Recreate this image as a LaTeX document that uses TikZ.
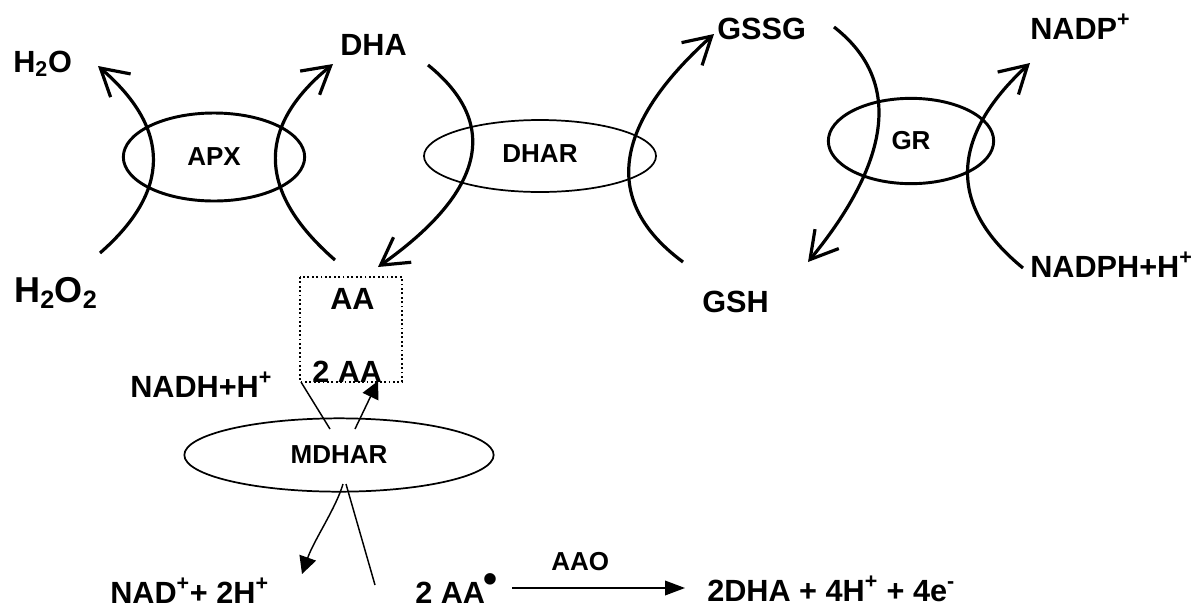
\documentclass[tikz,border=0pt]{standalone}
\usepackage{fontspec}
\setmainfont{Liberation Sans}
\usetikzlibrary{arrows.meta,shapes.geometric}
\tikzset{
  lbl/.style={font=\fontsize{23}{23}\selectfont\bfseries, inner sep=0pt, anchor=base west},
  enz/.style={draw, ellipse, inner sep=0pt, font=\fontsize{19.5}{19.5}\selectfont\bfseries},
  arc/.style={line width=2.4pt, -{Straight Barb[length=20pt,width=23pt]}},
  thin/.style={line width=1.1pt},
  tri/.style={thin, -{Triangle[length=13pt,width=13pt]}}
}
\newcommand{\radbullet}{\raisebox{8pt}{\fontsize{30}{30}\selectfont\kern-1pt\textbullet}}
\begin{document}
\begin{tikzpicture}[x=0.75pt,y=-0.75pt]
\useasboundingbox[fill=white] (0,0) rectangle (1204,608);

% labels
\node[lbl] (h2o) at (13,72) {H\textsubscript{2}O};
\node[lbl] (dha) at (340,55) {DHA};
\node[lbl] (gssg) at (717,39) {GSSG};
\node[lbl] (nadp) at (1030,39) {NADP\textsuperscript{+}};
\node[lbl, font=\fontsize{27}{27}\selectfont\bfseries] (h2o2) at (14,302) {H\textsubscript{2}O\textsubscript{2}};
\node[lbl] (aa) at (330,309) {AA};
\node[lbl] (aa2) at (312,382) {2 AA};
\node[lbl] (gsh) at (702,312) {GSH};
\node[lbl] (nadph) at (1030,277) {NADPH+H\textsuperscript{+}};
\node[lbl] (nadh) at (130,397) {NADH+H\textsuperscript{+}};
\node[lbl] (nad) at (110,603) {NAD\textsuperscript{+}+ 2H\textsuperscript{+}};
\node[lbl] (aar) at (415,603) {2 AA\radbullet};
\node[lbl] (prod) at (707,601) {2DHA + 4H\textsuperscript{+} + 4e\textsuperscript{-}};
\node[lbl, font=\fontsize{19.5}{19.5}\selectfont\bfseries] (aao) at (551,570) {AAO};

% enzymes
\node[enz, line width=2.2pt, minimum width=136, minimum height=66] (apx) at (214,157) {\raisebox{-2pt}{APX}};
\node[enz, line width=1.3pt, minimum width=174, minimum height=54] (dhar) at (540,156) {\raisebox{4pt}{DHAR}\hspace{10pt}};
\node[enz, line width=2.2pt, minimum width=124, minimum height=64] (gr) at (911,141) {\raisebox{-4pt}{GR}};
\node[enz, line width=1.3pt, minimum width=232, minimum height=55] (mdhar) at (339,455) {\raisebox{-4pt}{MDHAR}};

% dotted box around AA / 2 AA
\draw[dotted, line width=1.3pt] (300,277) rectangle (402,382);

% arc end points
\coordinate (a1s) at (100,253); \coordinate (a1e) at (98,66);
\coordinate (a2s) at (335,260); \coordinate (a2e) at (333,64);
\coordinate (a3s) at (428,65);  \coordinate (a3e) at (378,267);
\coordinate (a4s) at (683,262); \coordinate (a4e) at (714,34);
\coordinate (a5s) at (834,27);  \coordinate (a5e) at (808,262);
\coordinate (a6s) at (1023,268); \coordinate (a6e) at (1030,63);

\draw[arc] (a1s) .. controls (171,191) and (171,129) .. (a1e);
\draw[arc] (a2s) .. controls (257,192) and (256,127) .. (a2e);
\draw[arc] (a3s) .. controls (501,124) and (484,192) .. (a3e);
\draw[arc] (a4s) .. controls (602,202) and (612,126) .. (a4e);
\draw[arc] (a5s) .. controls (901,79) and (893,158) .. (a5e);
\draw[arc] (a6s) .. controls (947,206) and (950,137) .. (a6e);

% MDHAR connectors
\coordinate (boxbl) at (301,382);
\coordinate (m1) at (330,429);
\coordinate (m2) at (355,429);
\coordinate (up) at (378,381);
\coordinate (m3) at (343,484);
\coordinate (dn) at (302,574);
\coordinate (m4) at (346,484);
\coordinate (aarend) at (375,585);
\draw[thin] (boxbl) -- (m1);
\draw[tri] (m2) -- (up);
\draw[tri] (m3) .. controls (336,508) and (314,540) .. (dn);
\draw[thin] (m4) .. controls (352,505) and (365,550) .. (aarend);

% AAO reaction arrow
\coordinate (aaos) at (512,588);
\coordinate (aaoe) at (685,588);
\draw[thin, -{Triangle[length=15pt,width=11pt]}] (aaos) -- (aaoe);
\end{tikzpicture}
\end{document}
